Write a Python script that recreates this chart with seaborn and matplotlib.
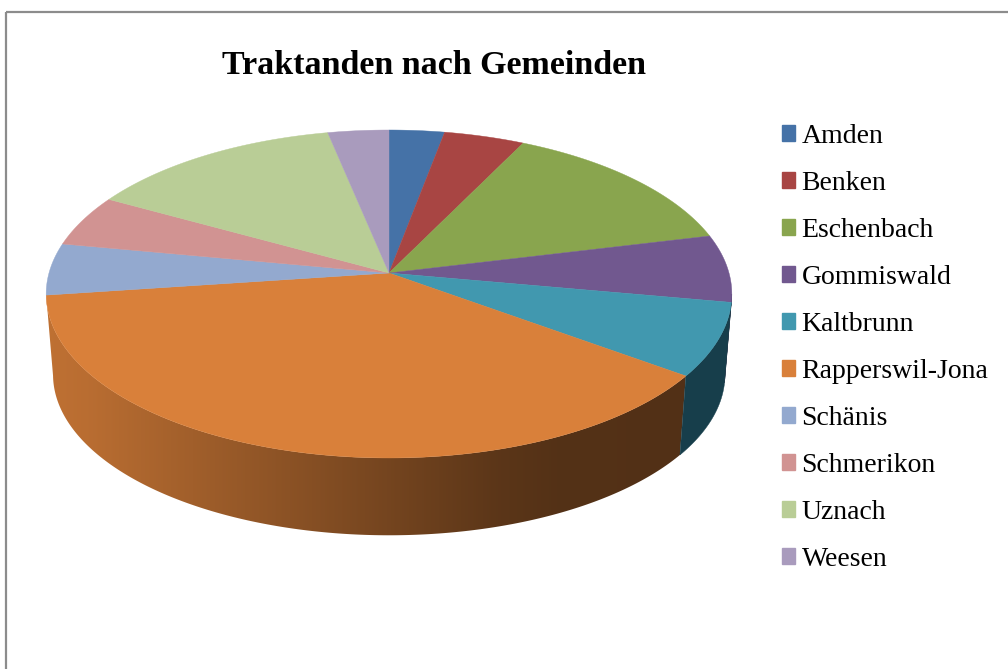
import numpy as np
import matplotlib
matplotlib.use('Agg')
import matplotlib.pyplot as plt
from matplotlib.patches import Patch, Rectangle, Polygon
import seaborn as sns

title = 'Traktanden nach Gemeinden'
gemeinden = ['Amden', 'Benken', 'Eschenbach', 'Gommiswald', 'Kaltbrunn',
             'Rapperswil-Jona', 'Schänis', 'Schmerikon', 'Uznach', 'Weesen']
anteile = [2.95, 4.3, 13.95, 6.65, 7.2, 37.8, 5.1, 5.1, 13.7, 3.25]
farben = ['#4572a7', '#a84543', '#89a54e', '#71588f', '#4198af',
          '#d9803a', '#93a9cf', '#d19392', '#b9cd96', '#a99bbd']

sns.set_theme(style='white')
plt.rcParams['font.family'] = ['Liberation Serif', 'DejaVu Serif']
palette = sns.color_palette(farben)

fig = plt.figure(figsize=(10.08, 6.69), dpi=100)
ax = fig.add_axes([0, 0, 1, 1])

# chart frame, right and bottom sides are cut off in the picture
ax.add_patch(Rectangle((6, 12), 1100, 800, fill=False, ec='#8c8c8c', lw=1.6))

# perspective of the pie: circle -> screen
K = 0.128
A = 340
B = 161.3


def project(theta, scale=1.0, cy=273):
    X = np.sin(theta)
    Y = np.cos(theta)
    w = 1 + K * Y
    return 389 + scale * A * X / w, cy - scale * B * Y / w


def wall(t0, t1):
    ts = np.linspace(t0, t1, 200)
    x0, y0 = project(ts)
    x1, y1 = project(ts[::-1], 0.98, 354)
    return np.c_[np.r_[x0, x1], np.r_[y0, y1]]


edges = np.cumsum([0] + anteile) / sum(anteile) * 2 * np.pi
tangent = np.arccos(-K)  # where the side wall starts to be visible

# side walls of the two small slices on the right
ax.fill(*wall(tangent, edges[4]).T, color='#2e2340', lw=0.3)
ax.fill(*wall(edges[4], edges[5]).T, color='#173e4b', lw=0.3)

# side wall of the big slice, gets darker to the right
xs = np.arange(40, 700)
shade = np.interp(xs, [46, 91, 213, 376, 499, 560, 690], [0.88, 0.85, 0.72, 0.55, 0.42, 0.385, 0.38])
grad = np.array(palette[5])[None, None, :] * shade[None, :, None]
im = ax.imshow(grad, extent=(40, 700, 560, 250), aspect='auto', interpolation='bilinear')
clip = Polygon(wall(edges[5], edges[6]), closed=True, transform=ax.transData)
im.set_clip_path(clip)

# top of the pie
for i, farbe in enumerate(palette):
    ts = np.linspace(edges[i], edges[i + 1], 120)
    x, y = project(ts)
    ax.fill(np.r_[389, x], np.r_[273, y], color=farbe, lw=0.3)

ax.set_xlim(0, 1008)
ax.set_ylim(669, 0)
ax.axis('off')

ax.text(434.5, 65, title, ha='center', va='center', fontsize=24.5, fontweight='bold', color='black')

handles = [Patch(color=c, label=g) for c, g in zip(palette, gemeinden)]
ax.legend(handles=handles, loc='upper left', bbox_to_anchor=(0.7505, 0.8525), frameon=False,
          fontsize=20, handlelength=0.5, handleheight=0.5, handletextpad=0.22,
          labelspacing=0.794, labelcolor='black')

fig.savefig('out.png', dpi=100)
